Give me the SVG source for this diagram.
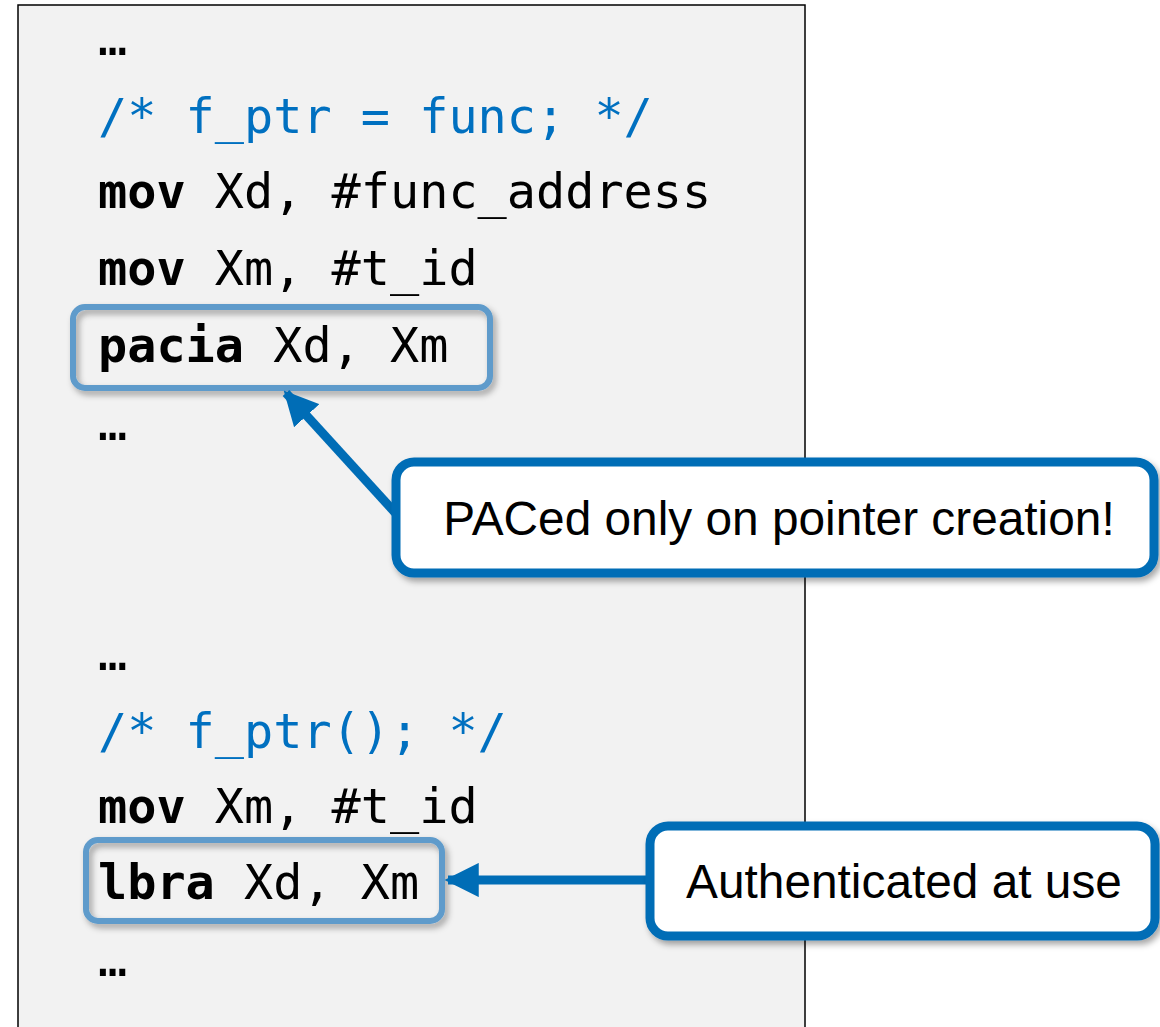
<svg xmlns="http://www.w3.org/2000/svg" width="1160" height="1027" viewBox="0 0 1160 1027">
<style>
.code{font-family:"DejaVu Sans Mono","Liberation Mono",monospace;font-size:48.5px;fill:#000}
.b{font-weight:bold}
.cm{fill:#0070C0}
.hl{fill:none;stroke:#5E9BCB;stroke-width:6}
.call{fill:#fff;stroke:#006DB6;stroke-width:9}
.lbl{font-family:"Liberation Sans",Arial,sans-serif;font-size:47.8px;fill:#000;text-anchor:middle}
.conn{stroke:#006DB6;stroke-width:9;fill:none}
</style>
<defs>
<filter id="sh" x="-10%" y="-20%" width="130%" height="150%">
<feDropShadow dx="3" dy="4" stdDeviation="3" flood-color="#000" flood-opacity="0.35"/>
</filter>
<marker id="ah" viewBox="0 0 10 10" refX="9" refY="5" markerWidth="3.8" markerHeight="3.8" orient="auto" markerUnits="strokeWidth">
<path d="M0,0 L10,5 L0,10 Z" fill="#006DB6"/>
</marker>
</defs>
<g id="panel">
<rect x="18" y="5" width="787" height="1040" fill="#F2F2F2" stroke="#000" stroke-width="1.5"/>
</g>
<g id="code">
<text class="code" x="98" y="55">…</text>
<text class="code cm" x="98" y="133">/* f_ptr = func; */</text>
<text class="code" x="98" y="208"><tspan class="b">mov</tspan> Xd, #func_address</text>
<text class="code" x="98" y="285"><tspan class="b">mov</tspan> Xm, #t_id</text>
<text class="code" x="98" y="440">…</text>
<text class="code" x="98" y="670">…</text>
<text class="code cm" x="98" y="748">/* f_ptr(); */</text>
<text class="code" x="98" y="823"><tspan class="b">mov</tspan> Xm, #t_id</text>
<text class="code" x="98" y="976">…</text>
</g>
<g id="pacia">
<rect class="hl" x="73" y="307" width="417" height="81" rx="12" filter="url(#sh)"/>
<text class="code" x="98" y="362"><tspan class="b">pacia</tspan> Xd, Xm</text>
</g>
<g id="lbra">
<rect class="hl" x="86" y="840" width="356" height="81" rx="12" filter="url(#sh)"/>
<text class="code" x="98" y="899"><tspan class="b">lbra</tspan> Xd, Xm</text>
</g>
<g id="connectors">
<line class="conn" x1="400" y1="518" x2="286" y2="393" marker-end="url(#ah)"/>
<line class="conn" x1="650" y1="880" x2="448" y2="880" marker-end="url(#ah)"/>
</g>
<g id="callout1">
<rect class="call" x="396" y="462" width="758" height="111" rx="18" filter="url(#sh)"/>
<text class="lbl" x="779" y="535">PACed only on pointer creation!</text>
</g>
<g id="callout2">
<rect class="call" x="650" y="826" width="505" height="110" rx="18" filter="url(#sh)"/>
<text class="lbl" x="904" y="898">Authenticated at use</text>
</g>
</svg>
